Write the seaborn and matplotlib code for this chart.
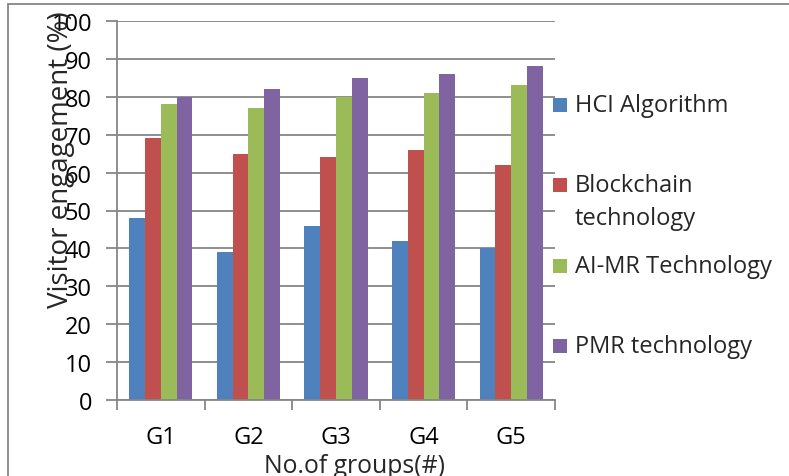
import matplotlib
matplotlib.use("Agg")
import matplotlib.pyplot as plt
import seaborn as sns
import pandas as pd
from matplotlib.patches import Rectangle
from matplotlib.lines import Line2D

groups = ["G1", "G2", "G3", "G4", "G5"]
series = ["HCI Algorithm", "Blockchain technology", "AI-MR Technology", "PMR technology"]
legend_labels = ["HCI Algorithm", "Blockchain\ntechnology", "AI-MR Technology", "PMR technology"]
hci = [48, 39, 46, 42, 40]
blockchain = [69, 65, 64, 66, 62]
aimr = [78, 77, 80, 81, 83]
pmr = [80, 82, 85, 86, 88]
colors = ["#4F81BD", "#C0504D", "#9BBB59", "#8064A2"]

rows = []
for name, vals in zip(series, [hci, blockchain, aimr, pmr]):
    for g, v in zip(groups, vals):
        rows.append({"group": g, "series": name, "value": v})
df = pd.DataFrame(rows)

sns.set_style("white")
plt.rcParams["font.family"] = ["Open Sans", "DejaVu Sans"]

fig = plt.figure(figsize=(7.89, 4.77), dpi=100)
ax = fig.add_axes([117/789, 1-401/477, (555-117)/789, (401-22)/477])

sns.barplot(data=df, x="group", y="value", hue="series", hue_order=series,
            palette=colors, width=0.72, saturation=1, ax=ax, legend=False,
            linewidth=0, errorbar=None)

ax.set_ylim(0, 100)
ax.set_xlim(-0.5, 4.5)
ax.set_yticks(range(0, 101, 10))
ax.yaxis.grid(True, color="#868686", linewidth=1.3)
ax.set_axisbelow(True)
for s in ["top", "right"]:
    ax.spines[s].set_visible(False)
for s in ["left", "bottom"]:
    ax.spines[s].set_color("#868686")
    ax.spines[s].set_linewidth(1.3)
ax.tick_params(axis="y", direction="out", length=8, width=1.3, color="#868686",
               labelsize=17, pad=10, left=True, labelcolor="black")
ax.tick_params(axis="x", which="major", length=0, labelsize=17, pad=18, labelcolor="black")
ax.set_xticks([i - 0.5 for i in range(6)], minor=True)
ax.tick_params(axis="x", which="minor", direction="out", length=7, width=1.3,
               color="#868686", bottom=True)
ax.set_xlabel("")
ax.set_ylabel("")

fig.text(61/789, 1-160/477, "Visitor engagement (%)", rotation=90, fontsize=20,
         ha="center", va="center")
fig.text(355/789, 1-467/477, "No.of groups(#)", fontsize=17.8, ha="center", va="center")

# legend drawn manually
ys = [106, 186, 267, 347]
for lab, col, y in zip(legend_labels, colors, ys):
    fig.patches.append(Rectangle((553/789, 1-(y+7)/477), 14/789, 14/477,
                                 transform=fig.transFigure, facecolor=col,
                                 edgecolor="none"))
    if "\n" in lab:
        fig.text(575/789, 1-(y-12)/477, lab, fontsize=17, ha="left", va="top",
                 linespacing=1.5)
    else:
        fig.text(575/789, 1-y/477, lab, fontsize=17, ha="left", va="center")

# chart border (left and top)
fig.add_artist(Line2D([8/789, 8/789], [0, 1-5/477], transform=fig.transFigure,
                      color="#868686", linewidth=1.3))
fig.add_artist(Line2D([8/789, 1], [1-5/477, 1-5/477], transform=fig.transFigure,
                      color="#868686", linewidth=1.3))

fig.savefig("out.png", dpi=100)
